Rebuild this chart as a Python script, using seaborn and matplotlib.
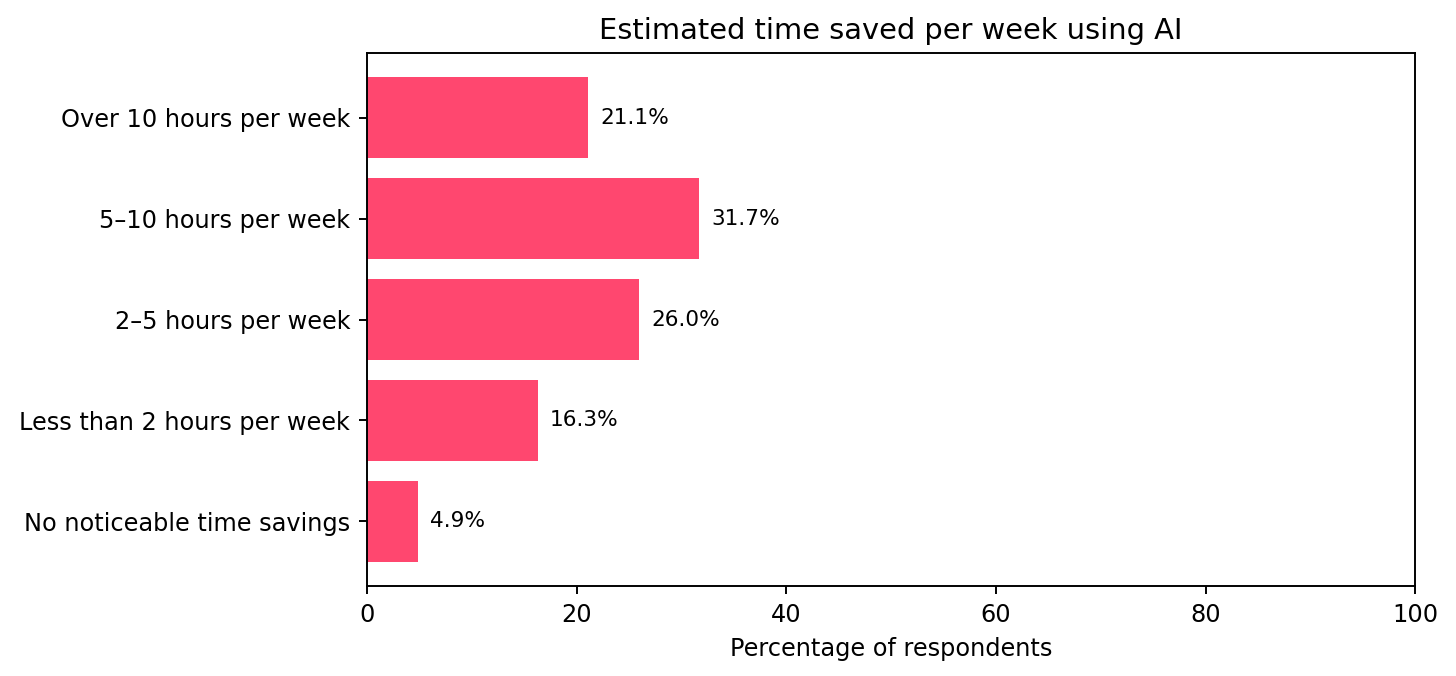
import matplotlib
matplotlib.use("Agg")
import matplotlib.pyplot as plt
import pandas as pd
import seaborn as sns

categories = [
    "Over 10 hours per week",
    "5\u201310 hours per week",
    "2\u20135 hours per week",
    "Less than 2 hours per week",
    "No noticeable time savings",
]
percentages = [21.1, 31.7, 26.0, 16.3, 4.9]

df = pd.DataFrame({"category": categories, "pct": percentages})

# reference looks like default matplotlib at ~173 dpi; scale sizes for 200 dpi
s = 173.33 / 200
plt.rcParams.update({
    "font.size": 10 * s,
    "axes.linewidth": 0.8 * s,
    "xtick.major.size": 3.5 * s,
    "ytick.major.size": 3.5 * s,
    "xtick.major.width": 0.8 * s,
    "ytick.major.width": 0.8 * s,
    "xtick.major.pad": 3.5 * s,
    "ytick.major.pad": 3.5 * s,
    "axes.titlepad": 6 * s,
    "axes.labelpad": 4 * s,
})

fig, ax = plt.subplots(figsize=(7.28, 3.38), dpi=200)
sns.barplot(data=df, x="pct", y="category", color="#FF476F", saturation=1,
            width=0.8, ax=ax)
ax.bar_label(ax.containers[0], labels=[f"{v:.1f}%" for v in percentages],
             padding=5 * s, fontsize=9 * s)

ax.set_xlim(0, 100)
# same vertical room as plain matplotlib barh (5% margins)
ax.set_ylim(4.64, -0.64)
ax.set_xlabel("Percentage of respondents")
ax.set_ylabel("")
ax.set_title("Estimated time saved per week using AI")

fig.subplots_adjust(left=0.252, right=0.972, top=0.9216, bottom=0.1331)
fig.savefig("out.png", dpi=200)
